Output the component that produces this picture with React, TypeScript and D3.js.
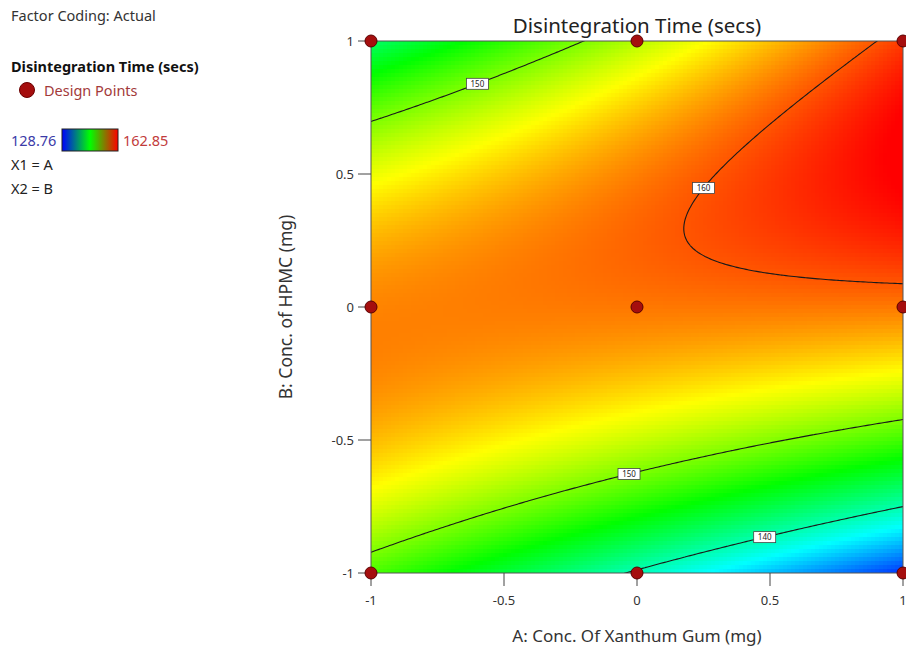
import React, { useMemo } from 'react';
import * as d3 from 'd3';

// design points (coded levels)
const designA = [-1, 0, 1, -1, 0, 1, -1, 0, 1];
const designB = [1, 1, 1, 0, 0, 0, -1, -1, -1];
const axisTicks = [-1, -0.5, 0, 0.5, 1];
const contourLevels = [140, 150, 160];
const responseRange = [128.76, 162.85];

// quadratic model fitted to the contour lines
// terms: intercept, A, B, AB, A², B²
const modelTerms = [158.841, 0.172, 6.123, 9.065, -0.242, -13.102];

const contourLabels = [
  { level: 150, a: -0.6, branch: 'upper' },
  { level: 150, a: -0.03, branch: 'lower' },
  { level: 140, a: 0.48, branch: 'lower' },
  { level: 160, a: 0.25, branch: 'upper' },
];

const W = 906, H = 653;
const plot = { left: 371, right: 903, top: 41, bottom: 573 };
const font = '"Noto Sans", "Open Sans", sans-serif';

const response = (a: number, b: number) => {
  const [b0, b1, b2, b12, b11, b22] = modelTerms;
  return b0 + b1 * a + b2 * b + b12 * a * b + b11 * a * a + b22 * b * b;
};

export default function App() {
  const x = d3.scaleLinear().domain([-1, 1]).range([plot.left, plot.right]);
  const y = d3.scaleLinear().domain([-1, 1]).range([plot.bottom, plot.top]);
  const [lo, hi] = responseRange;
  const color = d3.scaleLinear<string>()
    .domain(d3.range(5).map(i => lo + (hi - lo) * i / 4))
    .range(['#0000ff', '#00ffff', '#00ff00', '#ffff00', '#ff0000'])
    .interpolate(d3.interpolateRgb)
    .clamp(true);

  const cell = 4;
  const cells = useMemo(() => {
    const out: { px: number; py: number; c: string }[] = [];
    for (let px = plot.left; px < plot.right; px += cell) {
      for (let py = plot.top; py < plot.bottom; py += cell) {
        const a = x.invert(px + cell / 2), b = y.invert(py + cell / 2);
        out.push({ px, py, c: color(response(a, b)) });
      }
    }
    return out;
  }, []);

  // contour lines on a grid a bit larger than the plot, then clipped
  const n = 221, step = 0.01, start = -1.1;
  const lines = useMemo(() => {
    const vals = new Array(n * n);
    for (let j = 0; j < n; j++) for (let i = 0; i < n; i++) {
      vals[j * n + i] = response(start + i * step, start + j * step);
    }
    const gen = d3.contours().size([n, n]).thresholds(contourLevels);
    return gen(vals).map(mp => {
      let d = '';
      mp.coordinates.forEach(poly => poly.forEach(ring => {
        ring.forEach((p, k) => {
          const a = start + (p[0] - 0.5) * step, b = start + (p[1] - 0.5) * step;
          d += (k ? 'L' : 'M') + x(a).toFixed(2) + ',' + y(b).toFixed(2);
        });
      }));
      return { level: mp.value, d };
    });
  }, []);

  // put each label on its line: solve response(a, b) = level for b
  const labels = contourLabels.map(l => {
    const [b0, b1, b2, b12, b11, b22] = modelTerms;
    const qa = b22, qb = b2 + b12 * l.a, qc = b0 + b1 * l.a + b11 * l.a * l.a - l.level;
    const disc = Math.sqrt(Math.max(0, qb * qb - 4 * qa * qc));
    const r1 = (-qb + disc) / (2 * qa), r2 = (-qb - disc) / (2 * qa);
    const b = l.branch === 'upper' ? Math.max(r1, r2) : Math.min(r1, r2);
    return { ...l, b };
  });

  return (
    <svg width={W} height={H} style={{ position: 'absolute', left: 0, top: 0, background: '#fff' }} fontFamily={font}>
      <defs>
        <clipPath id="plotClip">
          <rect x={plot.left} y={plot.top} width={plot.right - plot.left} height={plot.bottom - plot.top} />
        </clipPath>
        <linearGradient id="legendGrad" x1="0" x2="1" y1="0" y2="0">
          <stop offset="0" stopColor="#0000ff" />
          <stop offset="0.5" stopColor="#00ff00" />
          <stop offset="1" stopColor="#ff0000" />
        </linearGradient>
      </defs>

      {/* legend */}
      <text x={11} y={21} fontSize={14.5} fill="#333">Factor Coding: Actual</text>
      <text x={11} y={72} fontSize={14.5} fontWeight="bold" fill="#111">Disintegration Time (secs)</text>
      <circle cx={27} cy={90} r={7.5} fill="#a50e0e" stroke="#6a0000" />
      <text x={44} y={96} fontSize={14.5} fill="#a33a3a">Design Points</text>
      <text x={11} y={146} fontSize={14.5} fill="#3b3ba8">128.76</text>
      <rect x={62} y={129} width={56} height={22} fill="url(#legendGrad)" stroke="#222" />
      <text x={123} y={146} fontSize={14.5} fill="#c23b3b">162.85</text>
      <text x={11} y={170} fontSize={14.5} fill="#222">X1 = A</text>
      <text x={11} y={194} fontSize={14.5} fill="#222">X2 = B</text>

      <text x={637} y={33} fontSize={20.5} textAnchor="middle" fill="#222">Disintegration Time (secs)</text>

      <g clipPath="url(#plotClip)">
        {cells.map((c, i) => (
          <rect key={i} x={c.px} y={c.py} width={cell + 0.5} height={cell + 0.5} fill={c.c} />
        ))}
        {lines.map((l, i) => (
          <path key={i} d={l.d} fill="none" stroke="#1a1a1a" strokeWidth={1.1} />
        ))}
      </g>
      <rect x={plot.left} y={plot.top} width={plot.right - plot.left} height={plot.bottom - plot.top} fill="none" stroke="#555" />

      {labels.map((l, i) => (
        <g key={i} transform={`translate(${x(l.a)},${y(l.b)})`}>
          <rect x={-11} y={-5.5} width={22} height={11} fill="#fff" stroke="#444" strokeWidth={0.8} />
          <text y={3} fontSize={8} textAnchor="middle" fill="#222">{l.level}</text>
        </g>
      ))}

      {/* axes */}
      {axisTicks.map(t => (
        <g key={'x' + t}>
          <line x1={x(t)} x2={x(t)} y1={plot.bottom} y2={plot.bottom + 13} stroke="#444" />
          <text x={x(t)} y={plot.bottom + 32} fontSize={13} textAnchor="middle" fill="#333">{t}</text>
        </g>
      ))}
      {axisTicks.map(t => (
        <g key={'y' + t}>
          <line x1={plot.left - 13} x2={plot.left} y1={y(t)} y2={y(t)} stroke="#444" />
          <text x={plot.left - 17} y={y(t) + 4.5} fontSize={13} textAnchor="end" fill="#333">{t}</text>
        </g>
      ))}
      <text x={637} y={642} fontSize={17} textAnchor="middle" fill="#333">A: Conc. Of Xanthum Gum (mg)</text>
      <text transform={`translate(292,307) rotate(-90)`} fontSize={17.5} textAnchor="middle" fill="#333">B: Conc. of HPMC (mg)</text>

      {designA.map((a, i) => (
        <circle key={i} cx={x(a)} cy={y(designB[i])} r={6} fill="#a50e0e" stroke="#5a0000" strokeWidth={1} />
      ))}
    </svg>
  );
}
